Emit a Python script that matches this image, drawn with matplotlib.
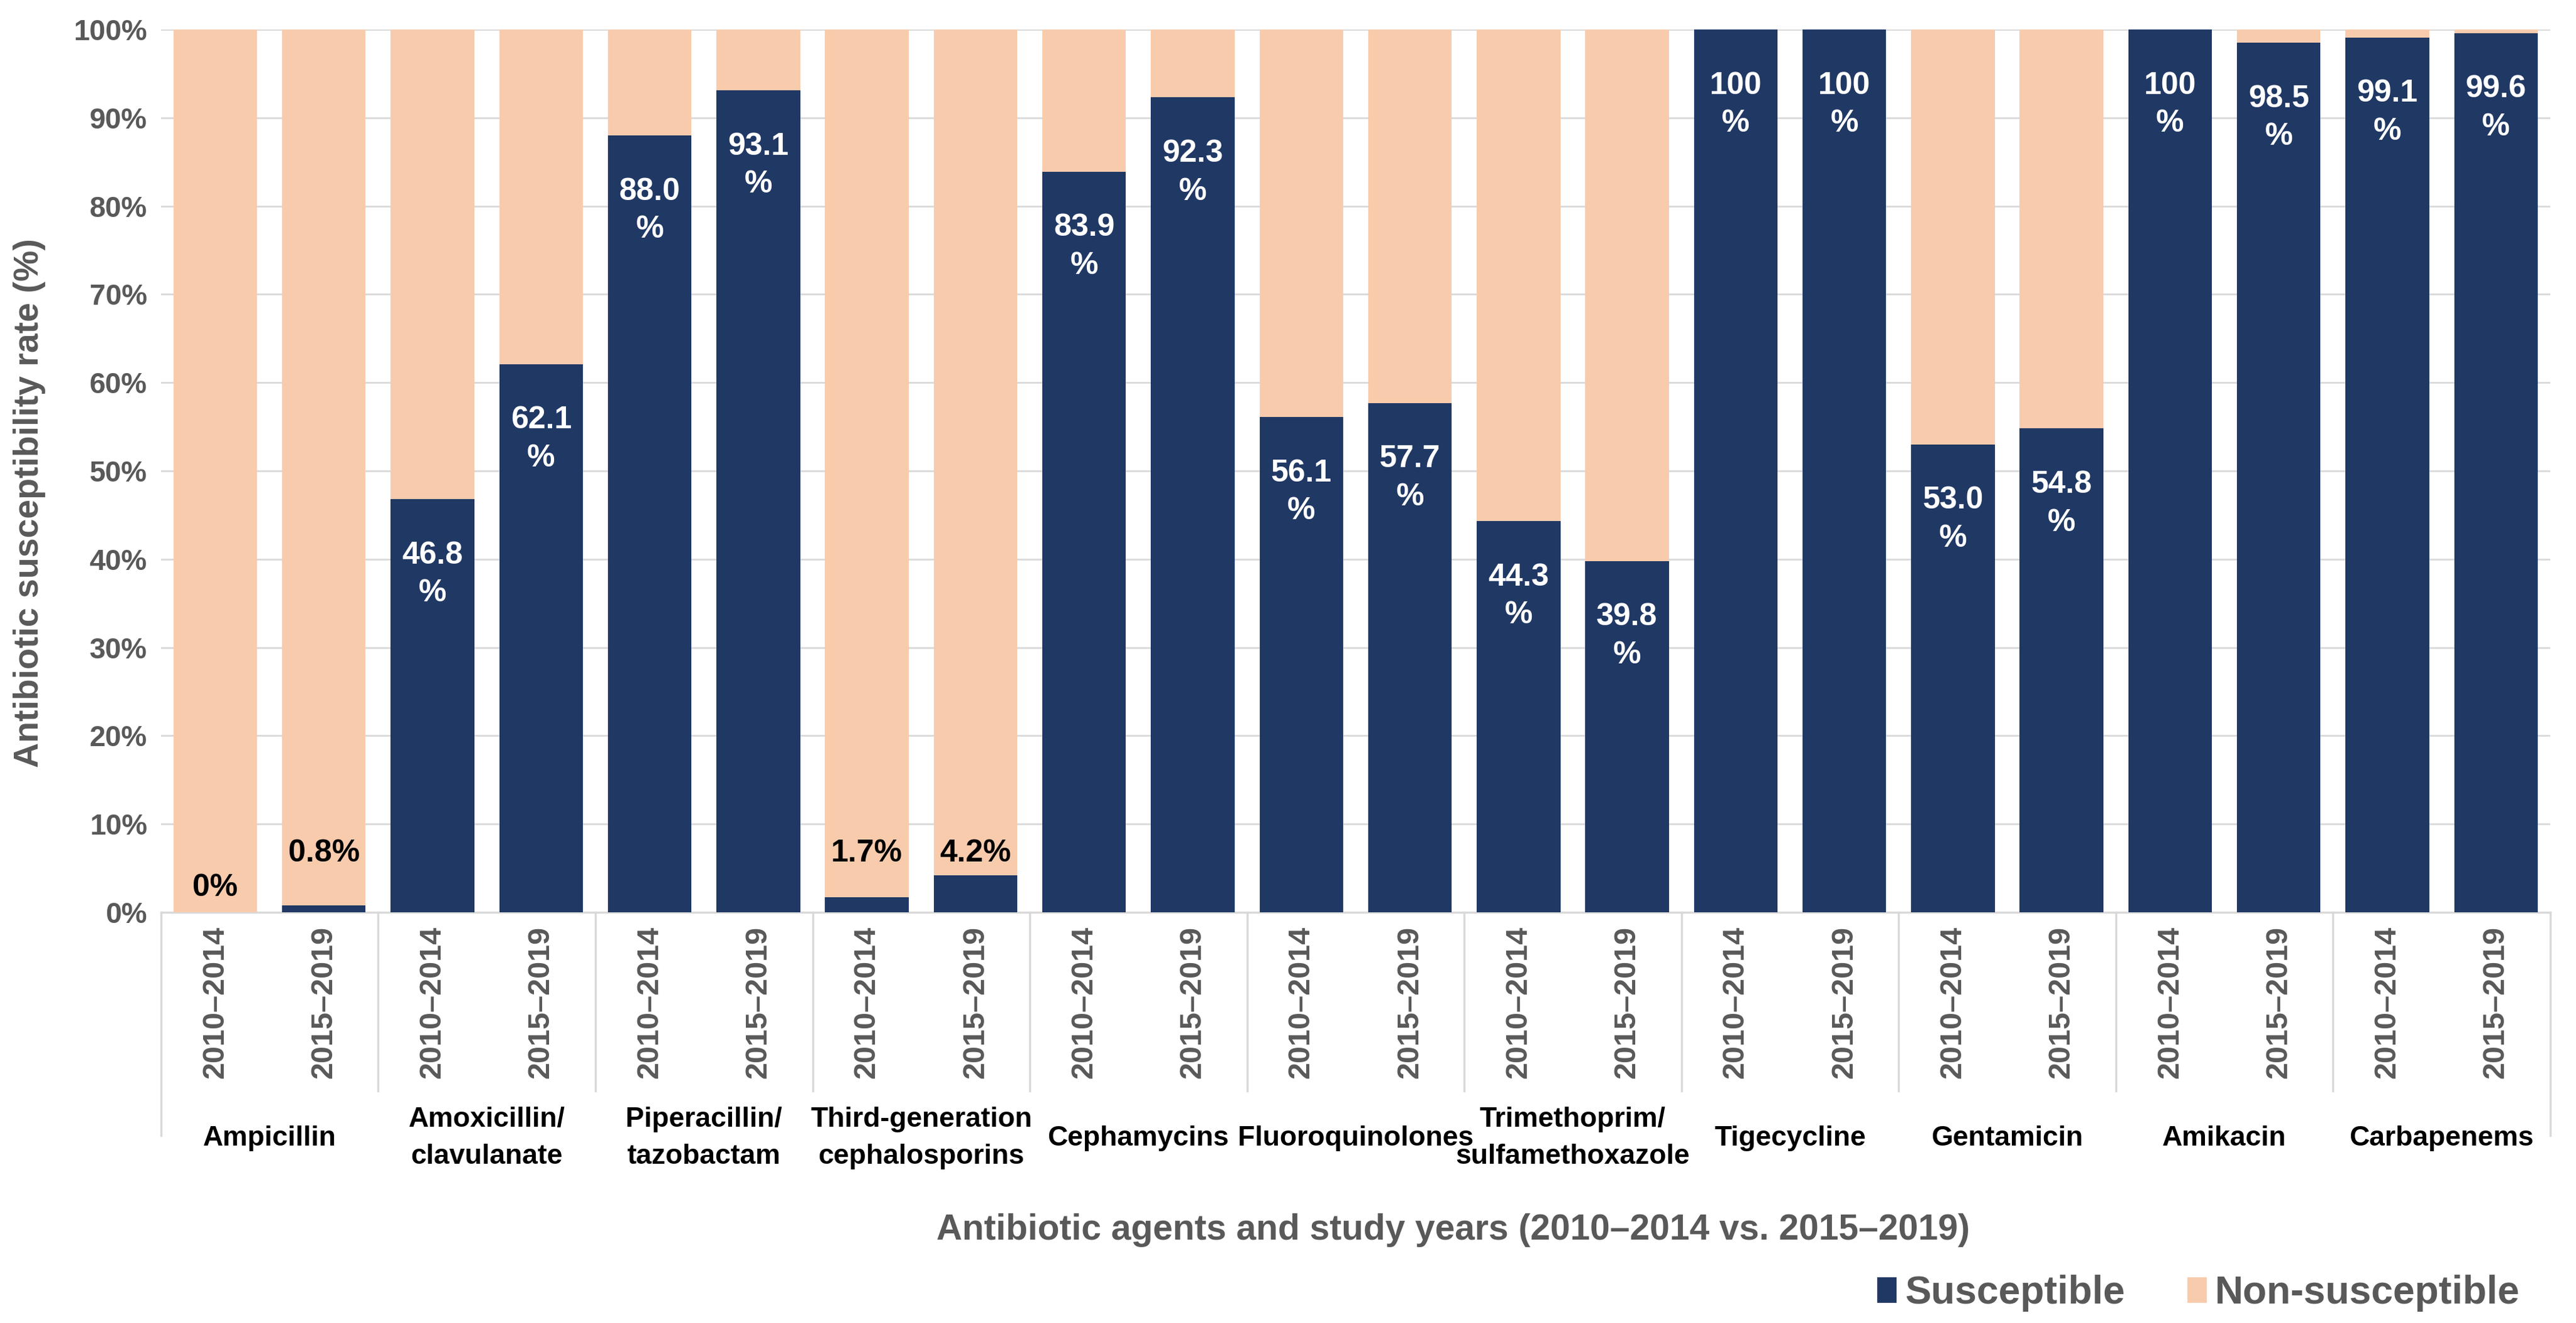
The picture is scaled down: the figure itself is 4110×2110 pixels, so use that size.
import matplotlib.pyplot as plt
from matplotlib.patches import Patch

# 字体（Arial 的替代）
FONT = ['Liberation Sans', 'DejaVu Sans']
plt.rcParams['font.family'] = FONT
plt.rcParams['font.weight'] = 'bold'

# 数据
agents = ['Ampicillin', 'Amoxicillin/\nclavulanate', 'Piperacillin/\ntazobactam',
          'Third-generation\ncephalosporins', 'Cephamycins', 'Fluoroquinolones',
          'Trimethoprim/\nsulfamethoxazole', 'Tigecycline', 'Gentamicin',
          'Amikacin', 'Carbapenems']
periods = ['2010–2014', '2015–2019']
susc_2010 = [0, 46.8, 88.0, 1.7, 83.9, 56.1, 44.3, 100, 53.0, 100, 99.1]
susc_2015 = [0.8, 62.1, 93.1, 4.2, 92.3, 57.7, 39.8, 100, 54.8, 98.5, 99.6]

navy = '#203864'
peach = '#F8CBAD'
gray = '#595959'
grid = '#D9D9D9'

susc = [v for pair in zip(susc_2010, susc_2015) for v in pair]
nonsusc = [100 - v for v in susc]
year_labels = periods * len(agents)
x = list(range(len(susc)))

fig = plt.figure(figsize=(20.55, 10.55), dpi=200)
ax = fig.add_axes([0.0625, 0.3104, 0.9275, 0.6673])

ax.bar(x, susc, width=0.77, color=navy, zorder=3)
ax.bar(x, nonsusc, bottom=susc, width=0.77, color=peach, zorder=3)

ax.set_xlim(-0.5, len(susc) - 0.5)
ax.set_ylim(0, 100)
ax.set_yticks(range(0, 101, 10))
ax.set_yticklabels([f'{t}%' for t in range(0, 101, 10)],
                   fontweight='bold', color=gray, fontsize=16.5)
ax.tick_params(axis='y', length=0, pad=8)
ax.yaxis.grid(True, color=grid, linewidth=1.0, zorder=0)
ax.set_axisbelow(True)
for s in ['top', 'right', 'left']:
    ax.spines[s].set_visible(False)
ax.spines['bottom'].set_color(grid)
ax.spines['bottom'].set_linewidth(1.2)

ax.set_xticks(x)
ax.set_xticklabels(year_labels, rotation=90, fontweight='bold', color=gray, fontsize=17.5)
ax.tick_params(axis='x', length=0, pad=8)

# 数据标签
for xi, v in zip(x, susc):
    txt = str(int(v)) if v in (0, 100) else f'{v:.1f}'
    if v < 10:
        yy = 2.8 if v == 0 else 6.7
        ax.text(xi, yy, txt + '%', ha='center', va='center', color='black',
                fontweight='bold', fontsize=18, zorder=5)
    else:
        ax.annotate(txt + '\n%', (xi, v), xytext=(0, -24), textcoords='offset points',
                    ha='center', va='top', color='white', fontweight='bold',
                    fontsize=18, linespacing=1.4, zorder=5)

# 分组标签与分隔线
trans = ax.get_xaxis_transform()
n = len(agents)
for i in range(n + 1):
    xb = 2 * i - 0.5
    y_end = -0.253 if i in (0, n) else -0.2024
    ax.plot([xb, xb], [0, y_end], color=grid, linewidth=1.2, transform=trans, clip_on=False)
for i, name in enumerate(agents):
    ax.text(2 * i + 0.5, -0.2557, name, transform=trans, ha='center', va='center',
            fontweight='bold', fontsize=16, color='black', linespacing=1.55)

fig.text(0.564, 0.0701, 'Antibiotic agents and study years (2010–2014 vs. 2015–2019)',
         ha='center', va='center', fontweight='bold', fontsize=20.5, color=gray)
fig.text(0.0115, 0.62, 'Antibiotic susceptibility rate (%)', rotation=90,
         ha='center', va='center', fontweight='bold', fontsize=20, color=gray)

handles = [Patch(color=navy, label='Susceptible'), Patch(color=peach, label='Non-susceptible')]
fig.legend(handles=handles, loc='center right', bbox_to_anchor=(0.992, 0.0225), ncol=2,
           frameon=False, handlelength=0.45, handleheight=0.55, handletextpad=0.25,
           columnspacing=1.6, prop={'weight': 'bold', 'size': 22.5}, labelcolor=gray)

fig.savefig('out.png', dpi=200)
